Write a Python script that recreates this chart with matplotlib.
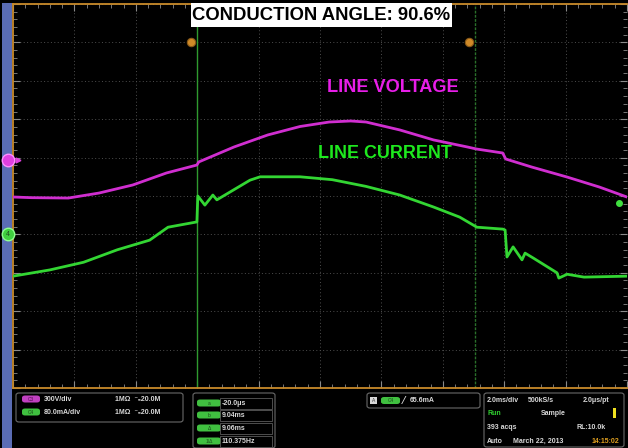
import numpy as np
import matplotlib.pyplot as plt
from matplotlib.patches import Rectangle, FancyBboxPatch
from matplotlib import transforms

plt.rcParams['font.family'] = ['Liberation Sans', 'DejaVu Sans']

# ---- scope data (time in ms, voltage in V, current in mA) ----
t_volt = [0.0, 0.6, 1.8, 2.8, 3.9, 5.0, 5.99, 6.05, 7.2, 8.3, 9.35, 10.3, 11.0,
          11.5, 12.6, 13.7, 14.8, 15.1, 15.95, 16.05, 16.9, 18.05, 19.1, 20.0]
v_line = [-293, -298, -301, -262, -199, -105, -43, -19, 98, 192, 258, 293, 301,
          293, 231, 153, 98, 82, 51, 4, -59, -137, -215, -293]

t_curr = [0.0, 1.2, 2.3, 3.4, 4.45, 5.05, 5.99, 6.02, 6.25, 6.51, 6.64, 7.72, 8.05,
          9.35, 10.4, 11.5, 12.6, 13.7, 14.55, 15.11, 15.96, 16.03, 16.09, 16.29,
          16.58, 16.68, 16.94, 17.72, 17.78, 18.05, 18.6, 20.0]
i_line = [-87, -74, -58, -32, -12, 15, 26, 80, 61, 82, 72, 113, 120,
          120, 114, 100, 82, 57, 36, 15, 11, 9, -47, -26,
          -53, -39, -49, -80, -91, -83, -89, -87]

V_SCALE = 300.0   # V/div
I_SCALE = 80.0    # mA/div
V_POS = 5.95      # ch3 ground position (div)
I_POS = 4.0       # ch4 ground position (div)
TRIG_LEVEL = 65.6 # mA
cursor_a = 6.0
cursor_b = 15.06

W, H = 628, 448
C_MAG = '#d02ed0'
C_GRN = '#33d633'
C_ORANGE = '#c98b2b'

fig = plt.figure(figsize=(W / 100, H / 100), dpi=100, facecolor='black')

def fx(x):
    return x / W

def fy(y):
    return 1 - y / H

# left blue strip
fig.add_artist(Rectangle((fx(2), 0), fx(10), fy(3), transform=fig.transFigure,
                         fc='#5a6cb4', ec='none', zorder=0))

ax = fig.add_axes([fx(13), fy(388), 614 / W, 384 / H])
ax.set_facecolor('black')
ax.set_xlim(0, 20)
ax.set_ylim(0, 10)
ax.set_xticks(np.arange(0, 20.01, 2))
ax.set_xticks(np.arange(0, 20.01, 0.4), minor=True)
ax.set_yticks(np.arange(0, 10.01, 1))
ax.set_yticks(np.arange(0, 10.01, 0.2), minor=True)
ax.tick_params(which='both', direction='in', colors='#8a8a8a', labelleft=False,
               labelbottom=False, top=True, right=True)
ax.tick_params(which='major', length=5, width=0.8)
ax.tick_params(which='minor', length=3, width=0.6)
ax.grid(True, which='major', color='#4e4e4e', linestyle=(0, (1, 2.5)), linewidth=0.7)
for side in ['left', 'top', 'bottom']:
    ax.spines[side].set_color(C_ORANGE)
    ax.spines[side].set_linewidth(1.3)
ax.spines['right'].set_visible(False)

# cursors
ax.axvline(cursor_a, color='#2f9a2f', lw=1.0, zorder=2)
ax.axvline(cursor_b, color='#2a702a', lw=1.0, linestyle=(0, (2, 1)), zorder=2)
ax.plot([cursor_a - 0.2, cursor_b - 0.2], [9.0, 9.0], 'o', ms=6, mfc='#d08a28',
        mec='#8a5a18', mew=0.8, zorder=4)

# traces
v_div = np.array(v_line) / V_SCALE + V_POS
i_div = np.array(i_line) / I_SCALE + I_POS
ax.plot(t_volt, v_div, color=C_MAG, lw=2.0, zorder=3)
ax.plot(t_curr, i_div, color=C_GRN, lw=2.0, zorder=3)

# ground / trigger markers
bt = transforms.blended_transform_factory(fig.transFigure, ax.transData)
ax.plot([fx(8)], [V_POS], 'o', ms=9, mfc='#e040e0', mec='#ff90ff', mew=1,
        transform=bt, clip_on=False, zorder=5)
ax.plot([fx(18)], [V_POS], '>', ms=3.5, color='#e040e0', transform=bt, clip_on=False)
ax.plot([fx(8)], [I_POS], 'o', ms=9, mfc='#40d040', mec='#90ff90', mew=1,
        transform=bt, clip_on=False, zorder=5)
ax.text(fx(8), I_POS, '4', fontsize=5, color='#205020', ha='center', va='center',
        transform=bt, zorder=6)
ax.plot([fx(619)], [I_POS + TRIG_LEVEL / I_SCALE], 'o', ms=4, color='#40e040',
        transform=bt, clip_on=False)

# annotations
fig.add_artist(Rectangle((fx(191), fy(27)), fx(261), 24 / H, transform=fig.transFigure,
                         fc='white', ec='none', zorder=5))
fig.text(fx(321.5), fy(15.5), 'CONDUCTION ANGLE: 90.6%', ha='center', va='center',
         fontsize=13.3, weight='bold', color='black', zorder=6)
fig.text(fx(327), fy(88), 'LINE VOLTAGE', ha='left', va='center', fontsize=13.1,
         weight='bold', color='#e81ee8')
fig.text(fx(318), fy(154), 'LINE CURRENT', ha='left', va='center', fontsize=12.9,
         weight='bold', color='#1ee81e')

# ---- bottom readout panel ----
def box(x0, y0, x1, y1, ec='#6a6a6a', fc='black', lw=0.8, r=3):
    fig.add_artist(FancyBboxPatch((fx(x0), fy(y1)), (x1 - x0) / W, (y1 - y0) / H,
                                  boxstyle='round,pad=0,rounding_size=%f' % (r / W),
                                  transform=fig.transFigure, fc=fc, ec=ec, lw=lw))

def pill(x0, yc, w, color, label, tc='#1a4a1a'):
    h = 7
    fig.add_artist(FancyBboxPatch((fx(x0), fy(yc + h / 2)), w / W, h / H,
                                  boxstyle='round,pad=0,rounding_size=%f' % (3 / W),
                                  transform=fig.transFigure, fc=color, ec='none'))
    fig.text(fx(x0 + w / 2), fy(yc), label, fontsize=3.5, color=tc,
             ha='center', va='center')

def txt(x, y, s, color='#d8d8d8', ha='left', size=5):
    fig.text(fx(x), fy(y), s, fontsize=size, color=color, ha=ha, va='center',
             weight='bold')

box(16, 393, 183, 422)
pill(22, 399, 18, '#c040c0', 'C3', '#501050')
txt(44, 399, '300V/div')
txt(115, 399, '1MΩ  ⁻ₔ20.0M')
pill(22, 412, 18, '#40c040', 'C4')
txt(44, 412, '80.0mA/div')
txt(115, 412, '1MΩ  ⁻ₔ20.0M')

box(193, 393, 275, 448)
for yc, lab, val in [(403, 'a', '-20.0μs'), (415, 'b', '9.04ms'),
                     (428, 'Δ', '9.06ms'), (441, '1/Δ', '110.375Hz')]:
    pill(197, yc, 24, '#40c040', lab)
    fig.add_artist(Rectangle((fx(220), fy(yc + 5.5)), 52 / W, 11 / H,
                             transform=fig.transFigure, fc='none', ec='#5a5a5a', lw=0.6))
    txt(222, yc, val)

box(367, 393, 480, 408)
fig.add_artist(Rectangle((fx(370), fy(404)), 7 / W, 7 / H, transform=fig.transFigure,
                         fc='#d8d8d8', ec='none'))
fig.text(fx(373.5), fy(400.5), 'A', fontsize=3.5, color='#333333', ha='center', va='center')
pill(381, 400.5, 19, '#40c040', 'C4')
txt(403, 400.5, '⁄', size=7)
txt(410, 400.5, '65.6mA')

box(484, 393, 624, 447)
txt(487, 400, '2.0ms/div')
txt(528, 400, '500kS/s')
txt(609, 400, '2.0μs/pt', ha='right')
txt(487, 413, 'Run', color='#30d030')
txt(541, 413, 'Sample')
fig.add_artist(Rectangle((fx(613), fy(418)), 2.5 / W, 10 / H, transform=fig.transFigure,
                         fc='#f0e020', ec='none'))
txt(487, 427, '393 acqs')
txt(606, 427, 'RL:10.0k', ha='right')
txt(487, 441, 'Auto')
txt(513, 441, 'March 22, 2013')
txt(592, 441, '14:15:02', color='#e0a020')

fig.savefig('out.png', dpi=100, facecolor=fig.get_facecolor())
